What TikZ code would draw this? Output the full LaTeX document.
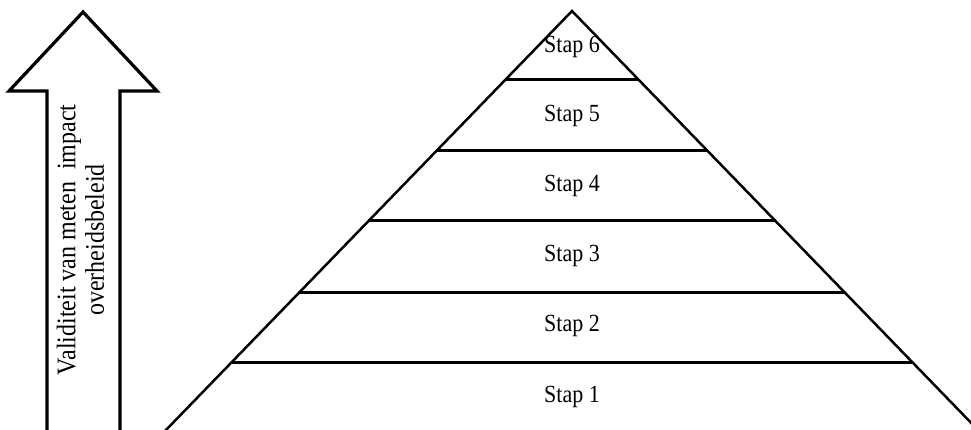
\documentclass[tikz,border=0pt]{standalone}
\usepackage{fontspec}
\setmainfont{Liberation Serif}
\newcommand{\tall}[1]{\scalebox{1}[1.12]{#1}}
\begin{document}
\begin{tikzpicture}[x=1pt,y=-1pt,
  side/.style={line width=2.5pt},
  tier/.style={line width=3pt},
  stage/.style={font=\fontsize{22}{26}\selectfont, inner sep=0pt},
  bigarrow/.style={line width=3.2pt, fill=white, line join=miter}]
\useasboundingbox (0,0) rectangle (971,430);
\clip (0,0) rectangle (971,430);

% upward block arrow with rotated caption
\draw[bigarrow] (83,12) -- (157,91) -- (120,91) -- (120,445) -- (47,445)
  -- (47,91) -- (9,91) -- cycle;
\node[rotate=90, inner sep=0pt] (caption) at (84,240)
  {\tall{\fontsize{24}{25.5}\selectfont
   \begin{tabular}{@{}c@{}}Validiteit van meten\ \ impact\\overheidsbeleid\end{tabular}}};

% pyramid outline
\coordinate (apex) at (572,11);
\coordinate (baseL) at ({572-0.969*429},440);
\coordinate (baseR) at ({572+0.969*429},440);
\draw[side, line join=miter] (baseL) -- (apex) -- (baseR);

% tier dividers
\foreach \y [count=\i] in {80,151,221,292,362} {
  \coordinate (l\i) at ({572-0.969*(\y-11)},\y);
  \coordinate (r\i) at ({572+0.969*(\y-11)},\y);
  \draw[tier] (l\i) -- (r\i);
}

% stage labels
\node[stage] (s6) at (572,47) {\tall{Stap 6}};
\node[stage] (s5) at (572,116) {\tall{Stap 5}};
\node[stage] (s4) at (572,186) {\tall{Stap 4}};
\node[stage] (s3) at (572,256) {\tall{Stap 3}};
\node[stage] (s2) at (572,326) {\tall{Stap 2}};
\node[stage] (s1) at (572,397) {\tall{Stap 1}};
\end{tikzpicture}
\end{document}
